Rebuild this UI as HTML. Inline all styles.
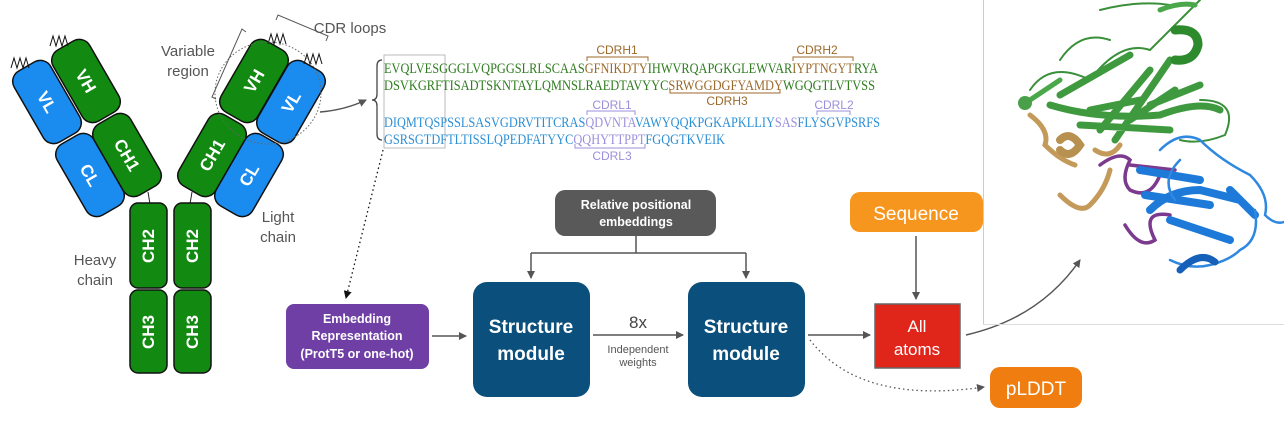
<!DOCTYPE html>
<html><head><meta charset="utf-8"><style>
html,body{margin:0;padding:0;background:#fff;}
svg{display:block;font-family:"Liberation Sans",sans-serif;}
</style></head><body>
<svg width="1284" height="434" viewBox="0 0 1284 434" xmlns="http://www.w3.org/2000/svg">
<defs>
<marker id="ah" markerWidth="8" markerHeight="8" refX="7" refY="4" orient="auto" markerUnits="userSpaceOnUse"><path d="M0,0 L8,4 L0,8 z" fill="#555"/></marker>
<marker id="ahk" markerWidth="8" markerHeight="8" refX="7" refY="4" orient="auto" markerUnits="userSpaceOnUse"><path d="M0,0 L8,4 L0,8 z" fill="#111"/></marker>
</defs>

<line x1="148" y1="192" x2="150" y2="204" stroke="#222" stroke-width="1"/>
<line x1="192" y1="192" x2="190" y2="204" stroke="#222" stroke-width="1"/>

<g transform="translate(47,102) rotate(-30)"><rect x="-21" y="-41" width="42" height="82" rx="12" fill="#1a8cf0" stroke="#111" stroke-width="1.5"/><text transform="rotate(90)" text-anchor="middle" y="6" fill="#fff" font-size="17" font-weight="bold">VL</text></g>
<g transform="translate(86,81) rotate(-30)"><rect x="-21" y="-41" width="42" height="82" rx="12" fill="#128a12" stroke="#111" stroke-width="1.5"/><text transform="rotate(90)" text-anchor="middle" y="6" fill="#fff" font-size="17" font-weight="bold">VH</text></g>
<g transform="translate(90,175) rotate(-30)"><rect x="-21" y="-41" width="42" height="82" rx="12" fill="#1a8cf0" stroke="#111" stroke-width="1.5"/><text transform="rotate(90)" text-anchor="middle" y="6" fill="#fff" font-size="17" font-weight="bold">CL</text></g>
<g transform="translate(127,155) rotate(-30)"><rect x="-21" y="-41" width="42" height="82" rx="12" fill="#128a12" stroke="#111" stroke-width="1.5"/><text transform="rotate(90)" text-anchor="middle" y="6" fill="#fff" font-size="17" font-weight="bold">CH1</text></g>
<g transform="translate(254,81) rotate(30)"><rect x="-21" y="-41" width="42" height="82" rx="12" fill="#128a12" stroke="#111" stroke-width="1.5"/><text transform="rotate(-90)" text-anchor="middle" y="6" fill="#fff" font-size="17" font-weight="bold">VH</text></g>
<g transform="translate(291,102) rotate(30)"><rect x="-21" y="-41" width="42" height="82" rx="12" fill="#1a8cf0" stroke="#111" stroke-width="1.5"/><text transform="rotate(-90)" text-anchor="middle" y="6" fill="#fff" font-size="17" font-weight="bold">VL</text></g>
<g transform="translate(212,155) rotate(30)"><rect x="-21" y="-41" width="42" height="82" rx="12" fill="#128a12" stroke="#111" stroke-width="1.5"/><text transform="rotate(-90)" text-anchor="middle" y="6" fill="#fff" font-size="17" font-weight="bold">CH1</text></g>
<g transform="translate(249,175) rotate(30)"><rect x="-21" y="-41" width="42" height="82" rx="12" fill="#1a8cf0" stroke="#111" stroke-width="1.5"/><text transform="rotate(-90)" text-anchor="middle" y="6" fill="#fff" font-size="17" font-weight="bold">CL</text></g>
<g fill="none" stroke="#111" stroke-width="1">
<path d="M11,68 l3,-10 l3,10 l3,-10 l3,10 l3,-10 l3,10"/>
<path d="M50,46 l3,-10 l3,10 l3,-10 l3,10 l3,-10 l3,10"/>
<path d="M268,44 l3,-10 l3,10 l3,-10 l3,10 l3,-10 l3,10"/>
<path d="M304,64 l3,-10 l3,10 l3,-10 l3,10 l3,-10 l3,10"/>
</g>
<rect x="130" y="203" width="37" height="85" rx="8" fill="#128a12" stroke="#111" stroke-width="1.5"/>
<rect x="174" y="203" width="37" height="85" rx="8" fill="#128a12" stroke="#111" stroke-width="1.5"/>
<rect x="130" y="290" width="37" height="83" rx="8" fill="#128a12" stroke="#111" stroke-width="1.5"/>
<rect x="174" y="290" width="37" height="83" rx="8" fill="#128a12" stroke="#111" stroke-width="1.5"/>
<g fill="#fff" font-size="17" font-weight="bold" text-anchor="middle">
<text transform="translate(154,246) rotate(-90)">CH2</text>
<text transform="translate(198,246) rotate(-90)">CH2</text>
<text transform="translate(154,332) rotate(-90)">CH3</text>
<text transform="translate(198,332) rotate(-90)">CH3</text>
</g>
<ellipse cx="268" cy="93" rx="53" ry="51" fill="none" stroke="#666" stroke-width="1" stroke-dasharray="1.5,2"/>
<path d="M276,20 L278,15 L328,36 L326,41" fill="none" stroke="#555" stroke-width="1"/>
<path d="M246,32 L242,29 L212,97 L216,99" fill="none" stroke="#555" stroke-width="1"/>
<g fill="#555" font-size="15" text-anchor="middle">
<text x="188" y="56">Variable</text><text x="188" y="76">region</text>
<text x="350" y="33">CDR loops</text>
<text x="278" y="222">Light</text><text x="278" y="242">chain</text>
<text x="95" y="265">Heavy</text><text x="95" y="285">chain</text>
</g>
<path d="M320,112 Q345,110 366,100" fill="none" stroke="#555" stroke-width="1.5" marker-end="url(#ah)"/>

<path d="M382,60 Q377,60 377,66 L377,94 Q377,100 372,100 Q377,100 377,106 L377,134 Q377,140 382,140" fill="none" stroke="#444" stroke-width="1.3"/>
<rect x="384" y="55" width="61" height="93" fill="none" stroke="#bbb" stroke-width="1"/>
<g font-family="Liberation Serif,serif" font-size="14.5">
<text x="384" y="73" textLength="494" lengthAdjust="spacingAndGlyphs" fill="#2e7d1e">EVQLVESGGGLVQPGGSLRLSCAAS<tspan fill="#9c6a2a">GFNIKDTY</tspan>IHWVRQAPGKGLEWVAR<tspan fill="#9c6a2a">IYPTNGYT</tspan>RYA</text>
<text x="384" y="90" textLength="491" lengthAdjust="spacingAndGlyphs" fill="#2e7d1e">DSVKGRFTISADTSKNTAYLQMNSLRAEDTAVYYC<tspan fill="#9c6a2a">SRWGGDGFYAMDY</tspan>WGQGTLVTVSS</text>
<text x="384" y="127" textLength="496" lengthAdjust="spacingAndGlyphs" fill="#2b8fd6">DIQMTQSPSSLSASVGDRVTITCRAS<tspan fill="#9b8fdc">QDVNTA</tspan>VAWYQQKPGKAPKLLIY<tspan fill="#9b8fdc">SAS</tspan>FLYSGVPSRFS</text>
<text x="384" y="144" textLength="341" lengthAdjust="spacingAndGlyphs" fill="#2b8fd6">GSRSGTDFTLTISSLQPEDFATYYC<tspan fill="#9b8fdc">QQHYTTPPT</tspan>FGQGTKVEIK</text>
</g>
<g font-size="12" text-anchor="middle">
<text x="617" y="54" fill="#9c6a2a">CDRH1</text>
<text x="817" y="54" fill="#9c6a2a">CDRH2</text>
<text x="727" y="105" fill="#9c6a2a">CDRH3</text>
<text x="612" y="109" fill="#9b8fdc">CDRL1</text>
<text x="834" y="109" fill="#9b8fdc">CDRL2</text>
<text x="612" y="160" fill="#9b8fdc">CDRL3</text>
</g>
<g fill="none" stroke-width="1">
<path d="M587,61 v-4 h61 v4" stroke="#9c6a2a"/>
<path d="M793,61 v-4 h60 v4" stroke="#9c6a2a"/>
<path d="M670,89 v4 h110 v-4" stroke="#9c6a2a"/>
<path d="M587,115 v-4 h48 v4" stroke="#9b8fdc"/>
<path d="M817,115 v-4 h33 v4" stroke="#9b8fdc"/>
<path d="M575,144 v4 h70 v-4" stroke="#9b8fdc"/>
</g>
<path d="M383,150 L346,298" fill="none" stroke="#111" stroke-width="1.3" stroke-dasharray="1.5,3" marker-end="url(#ahk)"/>

<rect x="286" y="304" width="143" height="65" rx="8" fill="#6f3fa6"/>
<g fill="#fff" font-size="12.5" text-anchor="middle" font-weight="bold">
<text x="357" y="323">Embedding</text><text x="357" y="340">Representation</text><text x="357" y="358">(ProtT5 or one-hot)</text>
</g>
<line x1="432" y1="336" x2="466" y2="336" stroke="#555" stroke-width="1.5" marker-end="url(#ah)"/>
<rect x="473" y="282" width="117" height="115" rx="14" fill="#0b4f7c"/>
<rect x="688" y="282" width="117" height="115" rx="14" fill="#0b4f7c"/>
<g fill="#fff" font-size="19" text-anchor="middle" font-weight="bold">
<text x="531" y="333">Structure</text><text x="531" y="360">module</text>
<text x="746" y="333">Structure</text><text x="746" y="360">module</text>
</g>
<rect x="555" y="190" width="161" height="46" rx="10" fill="#595959"/>
<g fill="#fff" font-size="12.5" text-anchor="middle" font-weight="bold">
<text x="636" y="209">Relative positional</text><text x="636" y="226">embeddings</text>
</g>
<path d="M636,236 V253 M531,253 H746" stroke="#555" stroke-width="1.5" fill="none"/>
<line x1="531" y1="253" x2="531" y2="278" stroke="#555" stroke-width="1.5" marker-end="url(#ah)"/>
<line x1="746" y1="253" x2="746" y2="278" stroke="#555" stroke-width="1.5" marker-end="url(#ah)"/>
<text x="638" y="328" font-size="17" fill="#444" text-anchor="middle">8x</text>
<line x1="593" y1="335" x2="683" y2="335" stroke="#555" stroke-width="1.5" marker-end="url(#ah)"/>
<g fill="#555" font-size="11" text-anchor="middle"><text x="638" y="353">Independent</text><text x="638" y="366">weights</text></g>
<line x1="808" y1="335" x2="870" y2="335" stroke="#555" stroke-width="1.5" marker-end="url(#ah)"/>
<rect x="875" y="304" width="85" height="64" fill="#e0251b" stroke="#666" stroke-width="1.5"/>
<g fill="#fff" font-size="17" text-anchor="middle"><text x="917" y="332">All</text><text x="917" y="355">atoms</text></g>
<rect x="850" y="192" width="133" height="40" rx="10" fill="#f7961e"/>
<text x="916" y="220" fill="#fff" font-size="19" text-anchor="middle">Sequence</text>
<line x1="916" y1="236" x2="916" y2="299" stroke="#555" stroke-width="1.5" marker-end="url(#ah)"/>
<rect x="990" y="367" width="92" height="41" rx="10" fill="#ef7d10"/>
<text x="1036" y="395" fill="#fff" font-size="19" text-anchor="middle">pLDDT</text>
<path d="M810,340 Q860,405 984,387" fill="none" stroke="#555" stroke-width="1.3" stroke-dasharray="1.5,3" marker-end="url(#ah)"/>
<path d="M966,335 Q1040,318 1080,260" fill="none" stroke="#555" stroke-width="1.5" marker-end="url(#ah)"/>

<line x1="983.5" y1="0" x2="983.5" y2="325" stroke="#ccc"/>
<line x1="983" y1="324.5" x2="1284" y2="324.5" stroke="#ddd"/>
<g fill="none" stroke-linecap="round">
<path d="M1030,90 Q1050,60 1090,80 Q1120,40 1150,50 Q1190,10 1200,0 M1200,100 Q1240,100 1225,135 Q1200,145 1180,140 M1100,10 Q1140,0 1170,5 M1060,60 Q1080,30 1110,40" stroke="#3a8f3a" stroke-width="2"/>
<path d="M1050,105 Q1100,120 1160,115 Q1200,100 1220,110 M1060,95 L1130,55 M1100,130 L1150,70 M1115,140 L1170,60 M1130,120 L1175,90 M1080,125 L1170,130 M1150,105 L1200,85 M1090,110 L1140,100" stroke="#3f9a3f" stroke-width="7"/>
<path d="M1030,100 L1060,80 M1160,10 Q1180,2 1195,5" stroke="#4aa84a" stroke-width="5"/>
<circle cx="1025" cy="103" r="7" fill="#4aa04a"/>
<path d="M1175,30 Q1198,28 1198,45 Q1194,62 1175,60" stroke="#2d8a2d" stroke-width="9"/>
<path d="M1030,115 Q1050,130 1045,145 Q1060,160 1075,165 M1060,195 Q1080,215 1090,205 Q1105,190 1110,170 M1095,150 Q1110,160 1120,145" stroke="#c49a5a" stroke-width="5"/>
<path d="M1060,140 Q1070,130 1080,145 Q1070,160 1060,150" stroke="#b8904f" stroke-width="8"/>
<path d="M1100,165 Q1120,150 1130,160 Q1120,180 1130,190 Q1150,200 1160,175 M1125,225 Q1140,250 1155,240 Q1140,210 1170,215 M1130,165 L1175,170" stroke="#7b3a8e" stroke-width="3.5"/>
<path d="M1140,170 L1200,180 M1145,195 L1210,205 M1170,220 L1230,240 M1150,210 Q1170,190 1200,190 M1200,190 L1240,200 M1230,190 L1255,215" stroke="#1e7ad8" stroke-width="8"/>
<path d="M1160,150 Q1180,130 1200,140 Q1220,160 1250,175 Q1270,195 1265,215 Q1275,225 1284,222 M1170,260 Q1190,270 1210,265 Q1230,260 1240,250 Q1260,240 1255,210 M1180,160 Q1160,180 1175,200" stroke="#2f88e0" stroke-width="2.5"/>
<path d="M1180,270 Q1200,250 1215,262" stroke="#1560b8" stroke-width="7"/>
</g>
</svg>
</body></html>
